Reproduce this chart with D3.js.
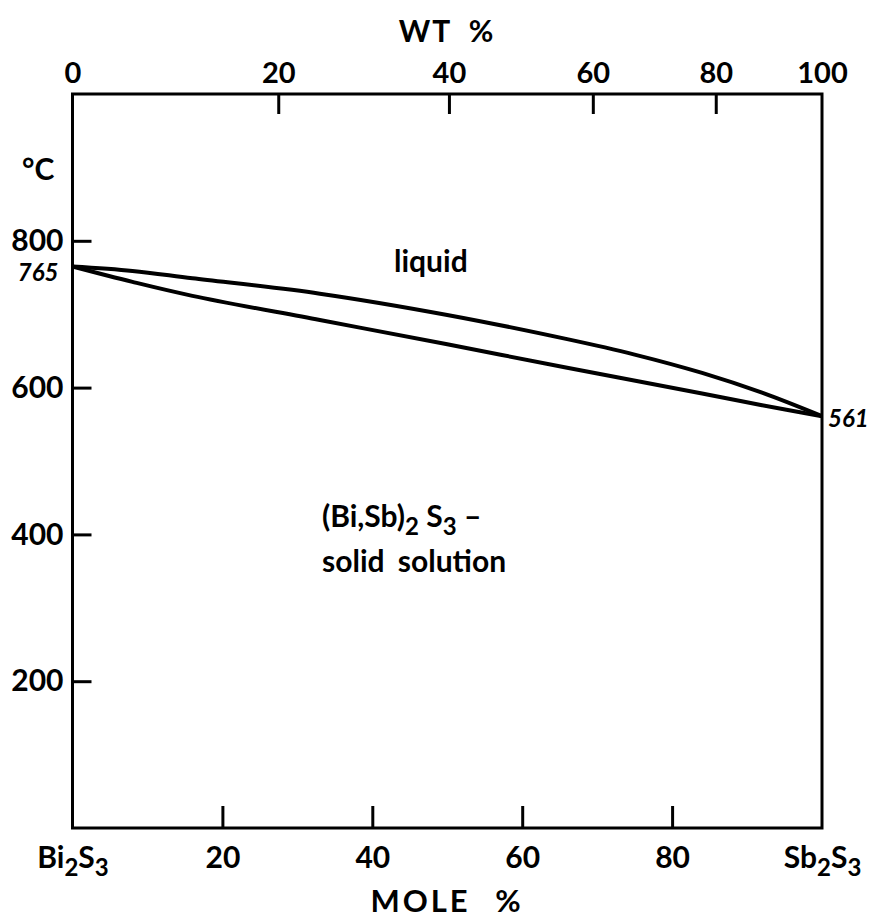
<!DOCTYPE html>
<html>
<head>
<meta charset="utf-8">
<script src="https://cdn.jsdelivr.net/npm/d3@7"></script>
<style>
  html, body { margin: 0; padding: 0; background: #fff; }
  svg { display: block; }
  text { font-family: Lato, "Open Sans", sans-serif; font-weight: bold; fill: #000; }
</style>
</head>
<body>
<svg id="chart" width="875" height="920"></svg>
<script>
// ---- data ----
const moleTicks = [0, 20, 40, 60, 80, 100];
const moleTickLabels = ["Bi2S3", "20", "40", "60", "80", "Sb2S3"];
const wtTicks = [0, 20, 40, 60, 80, 100];
const tempTicks = [200, 400, 600, 800];
const molarMassBi2S3 = 514.14;
const molarMassSb2S3 = 339.70;

const liquidusMole = [0, 8, 16, 33, 50, 66, 75, 84, 92, 100];
const liquidus     = [765, 759, 749, 728, 699, 666, 645, 620, 593, 561];
const solidusMole  = [0, 8, 16, 33, 50, 66, 84, 92, 100];
const solidus      = [765, 744, 725, 692, 659, 627, 592, 576, 561];

const meltBi2S3 = 765;
const meltSb2S3 = 561;

// ---- layout ----
const svg = d3.select("#chart");
const x = d3.scaleLinear().domain([0, 100]).range([72.5, 822]);
const y = d3.scaleLinear().domain([0, 1000]).range([828, 94]);

const wtToMole = w => {
  const a = w / molarMassSb2S3, b = (100 - w) / molarMassBi2S3;
  return 100 * a / (a + b);
};

const FS = 30;

// bottom axis (mole %)
const gB = svg.append("g").attr("transform", `translate(0,${y(0)})`)
  .call(d3.axisBottom(x).tickValues(moleTicks).tickSizeInner(-22).tickSizeOuter(0).tickPadding(19).tickFormat(""));
gB.select(".domain").remove();
gB.selectAll(".tick").filter(d => d === 0 || d === 100).select("line").remove();
gB.selectAll(".tick line").attr("stroke", "#000").attr("stroke-width", 3);
gB.selectAll(".tick text").each(function(d, i) {
  const t = d3.select(this).attr("font-size", FS).attr("dy", "0.71em");
  const lab = moleTickLabels[i];
  const m = lab.match(/^([A-Z][a-z]?)(\d)([A-Z][a-z]?)(\d)$/);
  if (m) {
    t.append("tspan").text(m[1]);
    t.append("tspan").text(m[2]).attr("dy", 8).attr("font-size", FS * 0.8);
    t.append("tspan").text(m[3]).attr("dy", -8);
    t.append("tspan").text(m[4]).attr("dy", 8).attr("font-size", FS * 0.8);
  } else t.text(lab);
});

// top axis (wt %)
const gT = svg.append("g").attr("transform", `translate(0,${y(1000)})`)
  .call(d3.axisTop(x).tickValues(wtTicks.map(wtToMole)).tickSizeInner(-20).tickSizeOuter(0).tickPadding(11)
    .tickFormat((d, i) => wtTicks[i]));
gT.select(".domain").remove();
gT.selectAll(".tick").filter((d, i) => i === 0 || i === wtTicks.length - 1).select("line").remove();
gT.selectAll(".tick line").attr("stroke", "#000").attr("stroke-width", 3);
gT.selectAll(".tick text").attr("font-size", 29);

// left axis (°C)
const gL = svg.append("g").attr("transform", `translate(${x(0)},0)`)
  .call(d3.axisLeft(y).tickValues(tempTicks).tickSizeInner(-19).tickSizeOuter(0).tickPadding(9));
gL.select(".domain").remove();
gL.selectAll(".tick line").attr("stroke", "#000").attr("stroke-width", 3);
gL.selectAll(".tick text").attr("font-size", FS);

// frame
svg.append("rect")
  .attr("x", x(0)).attr("y", y(1000))
  .attr("width", x(100) - x(0)).attr("height", y(0) - y(1000))
  .attr("fill", "none").attr("stroke", "#000").attr("stroke-width", 3);

// curves
const line = d3.line().x(d => x(d[0])).y(d => y(d[1])).curve(d3.curveCatmullRom.alpha(0.5));
[[liquidusMole, liquidus], [solidusMole, solidus]].forEach(([ms, ts]) => {
  svg.append("path")
    .datum(ms.map((m, i) => [m, ts[i]]))
    .attr("d", line)
    .attr("fill", "none").attr("stroke", "#000").attr("stroke-width", 4)
    .attr("stroke-linejoin", "round");
});

// axis titles
svg.append("text").attr("x", 447).attr("y", 42).attr("text-anchor", "middle").attr("font-size", FS)
  .attr("letter-spacing", 2).attr("word-spacing", 8).text("WT %");
svg.append("text").attr("x", 447).attr("y", 912).attr("text-anchor", "middle").attr("font-size", 31)
  .attr("letter-spacing", 3).attr("word-spacing", 14).text("MOLE %");
svg.append("text").attr("x", 22).attr("y", 180).attr("font-size", FS).text("°C");

// melting points
svg.append("text").attr("x", x(0) - 14).attr("y", y(meltBi2S3) + 15).attr("text-anchor", "end")
  .attr("font-size", 24).attr("font-style", "italic").text(meltBi2S3);
svg.append("text").attr("x", x(100) + 6).attr("y", y(meltSb2S3) + 11)
  .attr("font-size", 24).attr("font-style", "italic").text(meltSb2S3);

// field labels
svg.append("text").attr("x", 394).attr("y", 272).attr("font-size", FS).text("liquid");
const t1 = svg.append("text").attr("x", 322).attr("y", 527).attr("font-size", FS);
t1.append("tspan").text("(Bi,Sb)");
t1.append("tspan").text("2").attr("dy", 8).attr("font-size", FS * 0.8);
t1.append("tspan").text(" S").attr("dy", -8);
t1.append("tspan").text("3").attr("dy", 8).attr("font-size", FS * 0.8);
t1.append("tspan").text(" \u2013").attr("dy", -8);
svg.append("text").attr("x", 322).attr("y", 572).attr("font-size", FS).attr("word-spacing", 6).text("solid solution");
</script>
</body>
</html>
